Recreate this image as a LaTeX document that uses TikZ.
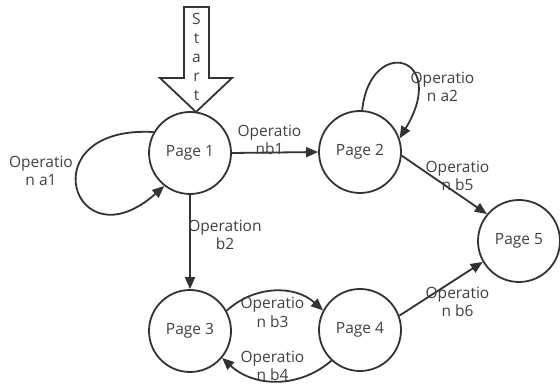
\documentclass[tikz,border=0pt]{standalone}
\usepackage{fontspec}
\setmainfont{Open Sans}
\usetikzlibrary{arrows.meta}
\definecolor{ink}{HTML}{333333}
\definecolor{txt}{HTML}{404040}
\begin{document}
\begin{tikzpicture}[x=1pt,y=1pt,
  every node/.style={text=txt,font=\fontsize{15.5}{18.5}\selectfont},
  page/.style={circle,draw=ink,line width=1.8pt,minimum size=82pt,inner sep=0pt},
  lbl/.style={align=center,inner sep=0pt},
  conn/.style={draw=ink,line width=1.8pt,-{Triangle[length=12pt,width=10pt]}}]
\useasboundingbox (0,0) rectangle (560,388);
\node[page] (p1) at (190,235) {Page 1};
\node[page] (p2) at (360,236) {Page 2};
\node[page] (p5) at (519,147) {Page 5};
\node[page] (p3) at (190,57) {Page 3};
\node[page] (p4) at (360,58) {Page 4};
% start arrow
\draw[ink,line width=1.8pt,line join=miter] (184,381) -- (209,381) -- (209,310) -- (232,310) -- (196,276) -- (160,310) -- (184,310) -- cycle;
\node[lbl,font=\fontsize{15.5}{19}\selectfont] (start) at (196.5,331) {S\\t\\a\\r\\t};
% loops
\draw[conn] (p1.150) .. controls (28,263) and (73,121) .. (p1.-128);
\draw[conn] (p2.87) .. controls (370,353) and (450,333) .. (p2.19);
% straight edges
\draw[conn] (p1.east) -- (p2.west);
\draw[conn] (p2.-5) -- (p5.140);
\draw[conn] (p1.south) -- (p3.north);
\draw[conn] (p4.20) -- (p5.210);
% curved edges
\draw[conn] (p3.29) .. controls (255,103) and (295,103) .. (p4.152);
\draw[conn] (p4.227) .. controls (300,0) and (255,0) .. (p3.-40);
% labels
\node[lbl] (la1) at (41,217) {Operatio\\n a1};
\node[lbl] (la2) at (442.5,301) {Operatio\\n a2};
\node[lbl] (lb1) at (269.5,248) {Operatio\\nb1};
\node[lbl] (lb5) at (457.5,212) {Operatio\\n b5};
\node[lbl] (lb2) at (225,153) {Operation\\b2};
\node[lbl] (lb3) at (272.5,75.5) {Operatio\\n b3};
\node[lbl] (lb4) at (272.5,22) {Operatio\\n b4};
\node[lbl] (lb6) at (457.5,86) {Operatio\\n b6};
\end{tikzpicture}
\end{document}
